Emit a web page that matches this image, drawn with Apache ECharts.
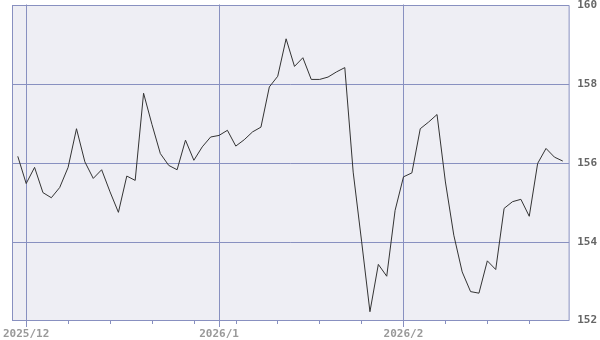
<!DOCTYPE html>
<html>
<head>
<meta charset="utf-8">
<script src="https://cdn.jsdelivr.net/npm/echarts@6/dist/echarts.min.js"></script>
<style>html,body{margin:0;padding:0;background:#fff;}#c{width:600px;height:340px;}</style>
</head>
<body>
<div id="c"></div>
<script>
var dates = [
  '2025/11/28',
  '2025/12/01','2025/12/02','2025/12/03','2025/12/04','2025/12/05',
  '2025/12/08','2025/12/09','2025/12/10','2025/12/11','2025/12/12',
  '2025/12/15','2025/12/16','2025/12/17','2025/12/18','2025/12/19',
  '2025/12/22','2025/12/23','2025/12/24','2025/12/25','2025/12/26',
  '2025/12/29','2025/12/30','2025/12/31',
  '2026/01/01','2026/01/02',
  '2026/01/05','2026/01/06','2026/01/07','2026/01/08','2026/01/09',
  '2026/01/12','2026/01/13','2026/01/14','2026/01/15','2026/01/16',
  '2026/01/19','2026/01/20','2026/01/21','2026/01/22','2026/01/23',
  '2026/01/26','2026/01/27','2026/01/28','2026/01/29','2026/01/30',
  '2026/02/02','2026/02/03','2026/02/04','2026/02/05','2026/02/06',
  '2026/02/09','2026/02/10','2026/02/11','2026/02/12','2026/02/13',
  '2026/02/16','2026/02/17','2026/02/18','2026/02/19','2026/02/20',
  '2026/02/23','2026/02/24','2026/02/25','2026/02/26','2026/02/27'
];
var prices = [
  156.15,
  155.46, 155.87, 155.23, 155.10, 155.36,
  155.87, 156.85, 156.01, 155.59, 155.81,
  155.25, 154.73, 155.65, 155.54, 157.75,
  156.96, 156.22, 155.92, 155.81, 156.56,
  156.05, 156.39, 156.64,
  156.68, 156.81,
  156.41, 156.57, 156.77, 156.89, 157.91,
  158.18, 159.13, 158.43, 158.65, 158.10,
  158.10, 158.16, 158.29, 158.40, 155.75,
  154.00, 152.21, 153.41, 153.11, 154.78,
  155.63, 155.73, 156.85, 157.02, 157.21,
  155.50, 154.15, 153.22, 152.72, 152.68,
  153.50, 153.28, 154.83, 155.00, 155.06,
  154.63, 155.97, 156.35, 156.13, 156.03
];
var yTicks = [152, 154, 156, 158, 160];
var monthLabels = ['2025/12', '2026/1', '2026/2'];

function ym(d) { var p = d.split('/'); return p[0] + '/' + parseInt(p[1], 10); }
function isMonthStart(i) { return i > 0 && ym(dates[i]) !== ym(dates[i - 1]) && monthLabels.indexOf(ym(dates[i])) >= 0; }
function isMonday(i) { var p = dates[i].split('/'); return new Date(+p[0], +p[1] - 1, +p[2]).getDay() === 1; }

var gridColor = '#8890C0';
var chart = echarts.init(document.getElementById('c'), null, { renderer: 'canvas' });
chart.setOption({
  animation: false,
  grid: [
    { left: 12.5, top: 4.5, width: 558, height: 316, show: true, backgroundColor: '#EEEEF4', borderColor: gridColor, borderWidth: 1 },
    { left: 16.8, top: 4.5, width: 546, height: 316 }
  ],
  xAxis: [
    {
      type: 'category', gridIndex: 1, data: dates, boundaryGap: false, position: 'bottom',
      axisLine: { show: false },
      axisTick: { show: true, length: 4, interval: function (i) { return isMonday(i); }, lineStyle: { color: gridColor } },
      splitLine: { show: true, interval: function (i) { return isMonthStart(i); }, lineStyle: { color: gridColor, width: 1 } },
      axisLabel: {
        show: true, interval: function (i) { return isMonthStart(i); }, margin: 9,
        formatter: function (v) { return ym(v); },
        fontFamily: 'DejaVu Sans Mono', fontWeight: 'bold', fontSize: 11, color: '#999999'
      }
    },
    {
      type: 'category', gridIndex: 1, data: dates, boundaryGap: false, position: 'bottom', offset: 0,
      axisLine: { show: false },
      axisTick: { show: true, length: 7, interval: function (i) { return isMonthStart(i); }, lineStyle: { color: gridColor } },
      splitLine: { show: false }, axisLabel: { show: false }
    },
    { type: 'value', gridIndex: 0, min: 0, max: 1, show: false }
  ],
  yAxis: [
    {
      type: 'value', gridIndex: 0, position: 'right', min: yTicks[0], max: yTicks[yTicks.length - 1], interval: 2,
      axisLine: { show: true, lineStyle: { color: gridColor } },
      axisTick: { show: true, length: 6, lineStyle: { color: gridColor } },
      splitLine: { show: true, lineStyle: { color: gridColor, width: 1 } },
      axisLabel: { margin: 8, fontFamily: 'DejaVu Sans Mono', fontWeight: 'bold', fontSize: 11, color: '#666666' }
    },
    { type: 'value', gridIndex: 1, min: yTicks[0], max: yTicks[yTicks.length - 1], show: false }
  ],
  series: [{
    type: 'line', xAxisIndex: 0, yAxisIndex: 1, data: prices,
    showSymbol: false, symbol: 'none',
    lineStyle: { color: '#333333', width: 1 }
  }]
});
</script>
</body>
</html>
